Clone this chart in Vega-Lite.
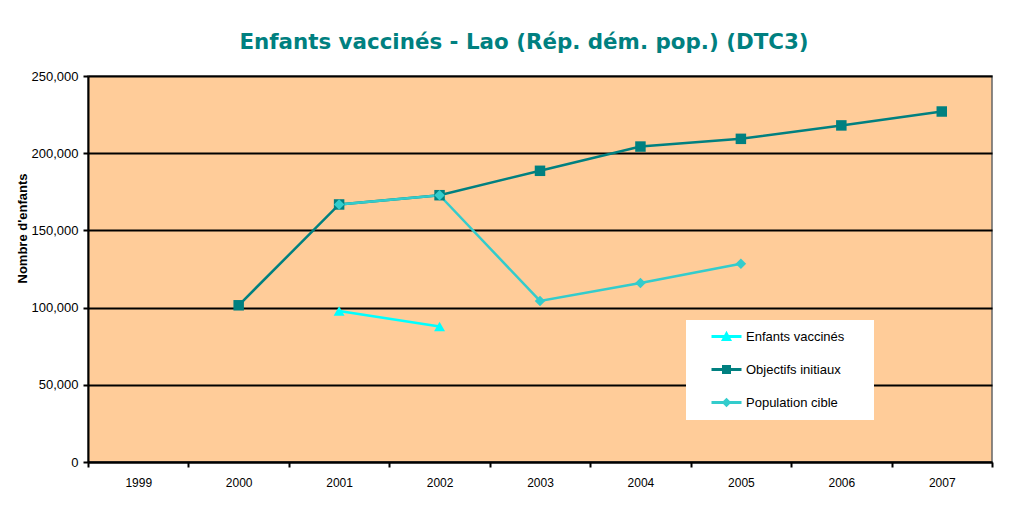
{
  "$schema": "https://vega.github.io/schema/vega-lite/v6.json",
  "autosize": {"type": "none"},
  "width": 904,
  "height": 386,
  "padding": {"left": 88, "top": 76, "right": 29, "bottom": 46},
  "background": "white",
  "title": {
    "text": "Enfants vaccinés - Lao (Rép. dém. pop.) (DTC3)",
    "font": "DejaVu Sans",
    "fontSize": 21.4,
    "fontWeight": "bold",
    "color": "#008080",
    "anchor": "middle",
    "dx": -16,
    "dy": 26,
    "offset": 26,
    "baseline": "alphabetic"
  },
  "config": {
    "view": {"fill": "#FFCC99", "stroke": "#666666", "strokeWidth": 1.5},
    "axis": {"labelFont": "Liberation Sans", "labelColor": "black", "domainColor": "black", "tickColor": "black"}
  },
  "data": {
    "values": [
      {"series": "Objectifs initiaux", "year": "2000", "value": 101500},
      {"series": "Objectifs initiaux", "year": "2001", "value": 166800},
      {"series": "Objectifs initiaux", "year": "2002", "value": 172800},
      {"series": "Objectifs initiaux", "year": "2003", "value": 188600},
      {"series": "Objectifs initiaux", "year": "2004", "value": 204300},
      {"series": "Objectifs initiaux", "year": "2005", "value": 209300},
      {"series": "Objectifs initiaux", "year": "2006", "value": 218000},
      {"series": "Objectifs initiaux", "year": "2007", "value": 227000},
      {"series": "Population cible", "year": "2001", "value": 166800},
      {"series": "Population cible", "year": "2002", "value": 172800},
      {"series": "Population cible", "year": "2003", "value": 104300},
      {"series": "Population cible", "year": "2004", "value": 115900},
      {"series": "Population cible", "year": "2005", "value": 128400},
      {"series": "Enfants vaccinés", "year": "2001", "value": 97800},
      {"series": "Enfants vaccinés", "year": "2002", "value": 87800}
    ]
  },
  "encoding": {
    "x": {
      "field": "year",
      "type": "ordinal",
      "scale": {"type": "band", "domain": ["1999","2000","2001","2002","2003","2004","2005","2006","2007"], "paddingInner": 0, "paddingOuter": 0},
      "axis": {"title": null, "labelAngle": 0, "tickBand": "extent", "domainWidth": 2, "tickWidth": 2, "tickSize": 5, "labelFontSize": 12, "labelPadding": 10, "grid": false}
    },
    "y": {
      "field": "value",
      "type": "quantitative",
      "scale": {"domain": [0, 250000], "nice": false},
      "axis": {
        "title": "Nombre d'enfants",
        "titleFont": "Liberation Sans",
        "titleFontSize": 13,
        "titleFontWeight": "bold",
        "titleColor": "black",
        "titleX": -62,
        "titleY": 152,
        "titleAngle": -90,
        "titleBaseline": "alphabetic",
        "titleAlign": "center",
        "values": [0, 50000, 100000, 150000, 200000, 250000],
        "format": ",d",
        "labelFontSize": 13,
        "labelPadding": 5,
        "tickSize": 5,
        "tickWidth": 2,
        "domainWidth": 2,
        "grid": true,
        "gridColor": "black",
        "gridWidth": 2
      }
    },
    "color": {
      "field": "series",
      "type": "nominal",
      "scale": {"domain": ["Enfants vaccinés", "Objectifs initiaux", "Population cible"], "range": ["#00FFFF", "#008080", "#33CCCC"]},
      "legend": {
        "title": " ",
        "titleOrient": "right",
        "titlePadding": 20,
        "titleFontSize": 4,
        "orient": "none",
        "legendX": 598,
        "legendY": 244,
        "fillColor": "white",
        "padding": 10,
        "rowPadding": 19,
        "symbolSize": 144,
        "symbolOffset": 24,
        "labelOffset": 13,
        "labelFont": "Liberation Sans",
        "labelFontSize": 13,
        "labelColor": "black",
        "symbolStrokeWidth": 0,
        "symbolOpacity": 1
      }
    }
  },
  "layer": [
    {
      "mark": {"type": "line", "strokeWidth": 2.5}
    },
    {
      "transform": [{"filter": "datum.series === 'Objectifs initiaux'"}],
      "mark": {"type": "point", "filled": true, "opacity": 1, "size": 110, "shape": "square"}
    },
    {
      "transform": [{"filter": "datum.series === 'Population cible'"}],
      "mark": {"type": "point", "filled": true, "opacity": 1, "size": 110, "shape": "diamond"}
    },
    {
      "transform": [{"filter": "datum.series === 'Enfants vaccinés'"}],
      "mark": {"type": "point", "filled": true, "opacity": 1, "size": 120, "shape": "triangle-up"}
    },
    {
      "mark": {"type": "point", "filled": true, "opacity": 0, "size": 144},
      "encoding": {
        "shape": {
          "field": "series",
          "type": "nominal",
          "scale": {"domain": ["Enfants vaccinés", "Objectifs initiaux", "Population cible"], "range": ["M-2.5,-0.25H2.5V0.25H-2.5Z M0,-0.95L0.92,0.75H-0.92Z", "M-2.5,-0.25H2.5V0.25H-2.5Z M-0.75,-0.75H0.75V0.75H-0.75Z", "M-2.5,-0.25H2.5V0.25H-2.5Z M0,-0.8L0.8,0L0,0.8L-0.8,0Z"]},
          "legend": null
        }
      }
    }
  ]
}
